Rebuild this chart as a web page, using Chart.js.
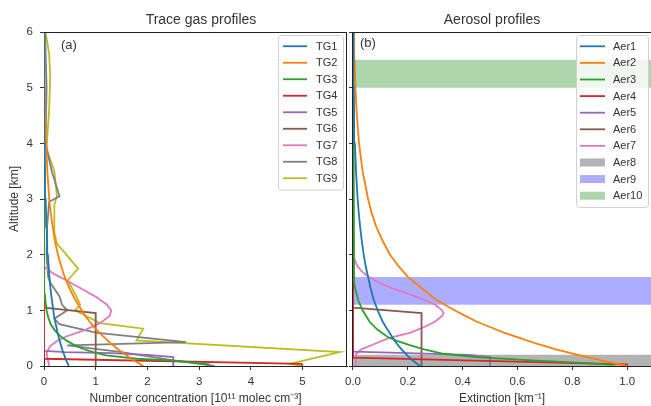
<!DOCTYPE html>
<html>
<head>
<meta charset="utf-8">
<script src="https://cdn.jsdelivr.net/npm/chart.js@4.4.0/dist/chart.umd.min.js"></script>
<style>
  html, body { margin: 0; padding: 0; background: #fff; }
  #wrap { position: relative; width: 651px; height: 406px; overflow: hidden; background: #fff; }
  canvas { position: absolute; top: 0; }
  #gas { left: 0; }
  #aer { left: 340px; }
</style>
</head>
<body>
<div id="wrap">
  <canvas id="gas" width="348" height="406"></canvas>
  <canvas id="aer" width="311" height="406"></canvas>
</div>
<script>
// ---------- data ----------
const gasLabels = ['TG1', 'TG2', 'TG3', 'TG4', 'TG5', 'TG6', 'TG7', 'TG8', 'TG9'];
const aerLabels = ['Aer1', 'Aer2', 'Aer3', 'Aer4', 'Aer5', 'Aer6', 'Aer7', 'Aer8', 'Aer9', 'Aer10'];

const altTicks = [0, 1, 2, 3, 4, 5, 6];
const gasTicks = [0, 1, 2, 3, 4, 5];
const aerTicks = [0, 0.2, 0.4, 0.6, 0.8, 1.0];

// common altitude grid (km) for the smooth profiles
const altGrid = [0, 0.1, 0.2, 0.3, 0.4, 0.5, 0.6, 0.7, 0.8, 0.9, 1.0, 1.2, 1.4, 1.6, 1.8, 2.0, 2.25, 2.5, 2.75, 3.0, 3.5, 4.0, 4.5, 5.0, 5.5, 6.0];

// trace gases, 1e11 molec cm-3
const tg1 = [0.48, 0.43, 0.39, 0.35, 0.32, 0.29, 0.26, 0.24, 0.215, 0.195, 0.18, 0.15, 0.125, 0.105, 0.09, 0.075, 0.062, 0.05, 0.04, 0.032, 0.02, 0.013, 0.008, 0.005, 0.003, 0.002];
const tg2 = [1.92, 1.74, 1.58, 1.43, 1.3, 1.18, 1.07, 0.97, 0.88, 0.8, 0.73, 0.6, 0.49, 0.4, 0.33, 0.27, 0.21, 0.17, 0.13, 0.1, 0.065, 0.04, 0.027, 0.018, 0.012, 0.008];
const tg3Alt = [0.03, 0.06, 0.09, 0.13, 0.19, 0.25, 0.31, 0.38, 0.46, 0.55, 0.64, 0.75, 0.88, 1.0, 1.15, 1.3, 1.5, 6];
const tg3 = [3.2, 2.9, 2.6, 1.8, 1.2, 0.95, 0.75, 0.58, 0.43, 0.3, 0.21, 0.13, 0.08, 0.05, 0.03, 0.015, 0.005, 0];
const tg4Alt = [0, 0.04, 0.13, 6];
const tg4 = [5.0, 4.98, 0, 0];
const tg5Alt = [0, 0.16, 0.2, 0.23, 0.25, 0.27, 6];
const tg5 = [2.5, 2.5, 2.0, 1.3, 0.4, 0, 0];
const tg6Alt = [0, 0.95, 1.05, 6];
const tg6 = [1.0, 1.0, 0, 0];
const tg7Alt = [0, 0.1, 0.23, 0.35, 0.45, 0.53, 0.65, 0.77, 0.9, 1.0, 1.1, 1.24, 1.4, 1.54, 1.65, 1.78, 6];
const tg7 = [0.1, 0.08, 0.05, 0.11, 0.25, 0.43, 0.8, 1.08, 1.27, 1.3, 1.22, 1.01, 0.7, 0.43, 0.2, 0, 0];
const tg8Alt = [0, 0.1, 0.25, 0.37, 0.43, 0.6, 0.75, 0.85, 1.0, 1.1, 1.25, 1.5, 1.6, 2.0, 2.5, 2.95, 3.05, 3.5, 4.0, 5.0, 6.0];
const tg8 = [3.3, 2.5, 1.5, 0.45, 2.75, 1.0, 0.3, 0.2, 0.45, 0.35, 0.3, 0.12, 0.08, 0.05, 0.06, 0.1, 0.3, 0.15, 0.03, 0.05, 0.02];
const tg9Alt = [0, 0.04, 0.25, 0.46, 0.67, 0.77, 1.0, 1.1, 1.24, 1.54, 1.75, 2.2, 2.4, 2.9, 3.05, 3.5, 3.9, 4.2, 4.6, 5.2, 5.6, 6.0];
const tg9 = [5.0, 4.75, 5.72, 1.79, 1.92, 1.08, 0.6, 0.7, 0.63, 0.46, 0.66, 0.25, 0.2, 0.2, 0.25, 0.2, 0.05, 0.07, 0.1, 0.12, 0.1, 0.03];

// aerosols, extinction km-1
const aer1 = [0.245, 0.218, 0.196, 0.177, 0.16, 0.146, 0.133, 0.12, 0.108, 0.099, 0.09, 0.075, 0.064, 0.055, 0.046, 0.039, 0.032, 0.026, 0.021, 0.017, 0.011, 0.007, 0.004, 0.003, 0.002, 0.001];
const aer2 = [1.0, 0.905, 0.82, 0.74, 0.67, 0.61, 0.55, 0.5, 0.45, 0.41, 0.37, 0.3, 0.25, 0.2, 0.165, 0.135, 0.108, 0.085, 0.068, 0.055, 0.035, 0.022, 0.014, 0.009, 0.006, 0.004];
const aer3Alt = [0.02, 0.05, 0.1, 0.16, 0.22, 0.3, 0.37, 0.45, 0.52, 0.65, 0.79, 1.0, 1.18, 1.35, 1.5, 6];
const aer3 = [0.95, 0.85, 0.65, 0.45, 0.33, 0.26, 0.21, 0.16, 0.127, 0.09, 0.061, 0.035, 0.019, 0.01, 0.004, 0];
const aer4Alt = [0, 0.03, 0.15, 6];
const aer4 = [1.0, 1.0, 0, 0];
const aer5Alt = [0, 0.16, 0.2, 0.23, 0.26, 6];
const aer5 = [0.5, 0.5, 0.42, 0.2, 0, 0];
const aer6Alt = [0, 0.95, 1.05, 6];
const aer6 = [0.25, 0.25, 0, 0];
const aer7Alt = [0, 0.22, 0.3, 0.4, 0.5, 0.6, 0.7, 0.8, 0.9, 0.95, 1.0, 1.1, 1.2, 1.3, 1.4, 1.5, 1.6, 1.7, 1.8, 1.95, 6];
const aer7 = [0.01, 0.012, 0.03, 0.08, 0.13, 0.21, 0.26, 0.3, 0.325, 0.33, 0.325, 0.3, 0.255, 0.2, 0.14, 0.095, 0.058, 0.032, 0.015, 0.003, 0];
// layers given as [bottom, top] in km
const aer8Layer = [0, 0.2];
const aer9Layer = [1.1, 1.6];
const aer10Layer = [5.0, 5.5];

// ---------- styling ----------
const tab = ['#1f77b4', '#ff7f0e', '#2ca02c', '#d62728', '#9467bd', '#8c564b', '#e377c2', '#7f7f7f', '#bcbd22'];
const layerColors = ['rgba(128,128,128,0.6)', 'rgba(0,0,255,0.32)', 'rgba(0,128,0,0.32)'];
const FONT = "'Liberation Sans', Arial, sans-serif";
const INK = '#333';
const SPINE = '#222';

Chart.defaults.font.family = FONT;
Chart.defaults.color = INK;
Chart.defaults.animation = false;

function profile(vals, alts) {
  return vals.map((v, i) => ({ x: v, y: alts[i] }));
}
function lineSet(label, vals, alts, color) {
  return {
    label, data: profile(vals, alts), showLine: true, borderColor: color,
    backgroundColor: color, borderWidth: 1.8, pointRadius: 0, tension: 0, fill: false
  };
}
function layerSet(label, layer, color) {
  return {
    label, data: [{ x: -1, y: layer[1] }, { x: 10, y: layer[1] }], showLine: true,
    borderWidth: 0, borderColor: 'rgba(0,0,0,0)', backgroundColor: color,
    pointRadius: 0, fill: { value: layer[0] }, isLayer: true
  };
}

// frame lines that the axes themselves do not draw
const framePlugin = {
  id: 'frame',
  afterDraw(chart, args, opts) {
    const { ctx, chartArea: a } = chart;
    ctx.save();
    ctx.strokeStyle = SPINE;
    ctx.lineWidth = 1;
    ctx.beginPath();
    ctx.moveTo(a.left, a.top + 0.5);
    ctx.lineTo(a.right, a.top + 0.5);
    if (opts.right) {
      ctx.moveTo(a.right - 0.5, a.top);
      ctx.lineTo(a.right - 0.5, a.bottom);
    }
    ctx.stroke();
    ctx.restore();
  }
};

// headline and panel tag
const notesPlugin = {
  id: 'notes',
  afterDraw(chart, args, opts) {
    const ctx = chart.ctx;
    ctx.save();
    ctx.fillStyle = INK;
    ctx.textBaseline = 'middle';
    ctx.font = '14px ' + FONT;
    ctx.textAlign = 'center';
    ctx.fillText(opts.title, opts.titleX, 20);
    ctx.font = '13px ' + FONT;
    ctx.textAlign = 'left';
    ctx.fillText(opts.tag, opts.tagX, opts.tagY);
    ctx.restore();
  }
};

// legend box inside the axes
const boxLegend = {
  id: 'boxLegend',
  afterDraw(chart, args, o) {
    const ctx = chart.ctx;
    const sets = chart.data.datasets;
    const h = sets.length * o.rowH + o.pad * 2;
    ctx.save();
    ctx.beginPath();
    const r = 3, x = o.x + 0.5, y = o.y + 0.5, w = o.w;
    ctx.moveTo(x + r, y);
    ctx.arcTo(x + w, y, x + w, y + h, r);
    ctx.arcTo(x + w, y + h, x, y + h, r);
    ctx.arcTo(x, y + h, x, y, r);
    ctx.arcTo(x, y, x + w, y, r);
    ctx.closePath();
    ctx.fillStyle = 'rgba(255,255,255,0.8)';
    ctx.fill();
    ctx.strokeStyle = '#d0d0d0';
    ctx.lineWidth = 1;
    ctx.stroke();
    ctx.font = '11px ' + FONT;
    ctx.textBaseline = 'middle';
    ctx.textAlign = 'left';
    sets.forEach((ds, i) => {
      const cy = o.y + o.pad + o.rowH * (i + 0.5);
      if (ds.isLayer) {
        ctx.fillStyle = ds.backgroundColor;
        ctx.fillRect(o.x + o.lineX, cy - 4, o.lineW, 8);
      } else {
        ctx.strokeStyle = ds.borderColor;
        ctx.lineWidth = 1.8;
        ctx.beginPath();
        ctx.moveTo(o.x + o.lineX, cy);
        ctx.lineTo(o.x + o.lineX + o.lineW, cy);
        ctx.stroke();
      }
      ctx.fillStyle = INK;
      ctx.fillText(ds.label, o.x + o.textX, cy + 0.5);
    });
    ctx.restore();
  }
};

function axisGrid() {
  return { display: true, drawOnChartArea: false, drawTicks: true, tickLength: 4, color: INK, lineWidth: 1 };
}

function makeOptions(cfg) {
  return {
    responsive: false,
    animation: false,
    layout: { padding: { top: 32, right: cfg.padRight, bottom: 0, left: 0 } },
    plugins: {
      legend: { display: false },
      tooltip: { enabled: false },
      frame: { right: cfg.frameRight },
      notes: cfg.notes,
      boxLegend: cfg.legend
    },
    scales: {
      x: {
        type: 'linear', min: 0, max: cfg.xMax,
        afterBuildTicks: s => { s.ticks = cfg.xTicks.map(v => ({ value: v })); },
        afterFit: s => { s.height = 40; },
        ticks: { font: { size: 11.5 }, color: INK, padding: 5, maxRotation: 0, callback: cfg.xFmt },
        grid: axisGrid(),
        border: { display: true, color: SPINE, width: 1 },
        title: { display: true, text: cfg.xTitle, font: { size: 12 }, color: INK, padding: { top: 0, bottom: 0 } }
      },
      y: {
        type: 'linear', min: 0, max: 6,
        afterBuildTicks: s => { s.ticks = altTicks.map(v => ({ value: v })); },
        afterFit: s => { s.width = cfg.yWidth; },
        ticks: { display: cfg.yLabels, font: { size: 11.5 }, color: INK, padding: 7 },
        grid: axisGrid(),
        border: { display: true, color: SPINE, width: 1 },
        title: { display: cfg.yLabels, text: 'Altitude [km]', font: { size: 12 }, color: INK, padding: { top: 7, bottom: 0 } }
      }
    }
  };
}

const gasSets = [
  lineSet(gasLabels[0], tg1, altGrid, tab[0]),
  lineSet(gasLabels[1], tg2, altGrid, tab[1]),
  lineSet(gasLabels[2], tg3, tg3Alt, tab[2]),
  lineSet(gasLabels[3], tg4, tg4Alt, tab[3]),
  lineSet(gasLabels[4], tg5, tg5Alt, tab[4]),
  lineSet(gasLabels[5], tg6, tg6Alt, tab[5]),
  lineSet(gasLabels[6], tg7, tg7Alt, tab[6]),
  lineSet(gasLabels[7], tg8, tg8Alt, tab[7]),
  lineSet(gasLabels[8], tg9, tg9Alt, tab[8])
];

const aerSets = [
  lineSet(aerLabels[0], aer1, altGrid, tab[0]),
  lineSet(aerLabels[1], aer2, altGrid, tab[1]),
  lineSet(aerLabels[2], aer3, aer3Alt, tab[2]),
  lineSet(aerLabels[3], aer4, aer4Alt, tab[3]),
  lineSet(aerLabels[4], aer5, aer5Alt, tab[4]),
  lineSet(aerLabels[5], aer6, aer6Alt, tab[5]),
  lineSet(aerLabels[6], aer7, aer7Alt, tab[6]),
  layerSet(aerLabels[7], aer8Layer, layerColors[0]),
  layerSet(aerLabels[8], aer9Layer, layerColors[1]),
  layerSet(aerLabels[9], aer10Layer, layerColors[2])
];

new Chart(document.getElementById('gas'), {
  type: 'scatter',
  data: { datasets: gasSets },
  options: makeOptions({
    padRight: 1, frameRight: true, xMax: 5.86, xTicks: gasTicks, yWidth: 44, yLabels: true,
    xFmt: v => String(v),
    xTitle: 'Number concentration [10\u00B9\u00B9 molec cm\u207B\u00B3]',
    notes: { title: 'Trace gas profiles', titleX: 201, tag: '(a)', tagX: 61, tagY: 45 },
    legend: { x: 278, y: 35, w: 65, rowH: 16.5, pad: 3, lineX: 5, lineW: 24, textX: 38 }
  }),
  plugins: [framePlugin, notesPlugin, boxLegend]
});

new Chart(document.getElementById('aer'), {
  type: 'scatter',
  data: { datasets: aerSets },
  options: makeOptions({
    padRight: 0, frameRight: false, xMax: 1.087, xTicks: aerTicks, yWidth: 8, yLabels: false,
    xFmt: v => v.toFixed(1),
    xTitle: 'Extinction [km\u207B\u00B9]',
    notes: { title: 'Aerosol profiles', titleX: 152, tag: '(b)', tagX: 20, tagY: 43 },
    legend: { x: 236, y: 35, w: 72, rowH: 16.6, pad: 3, lineX: 4, lineW: 25, textX: 37 }
  }),
  plugins: [framePlugin, notesPlugin, boxLegend]
});
</script>
</body>
</html>
